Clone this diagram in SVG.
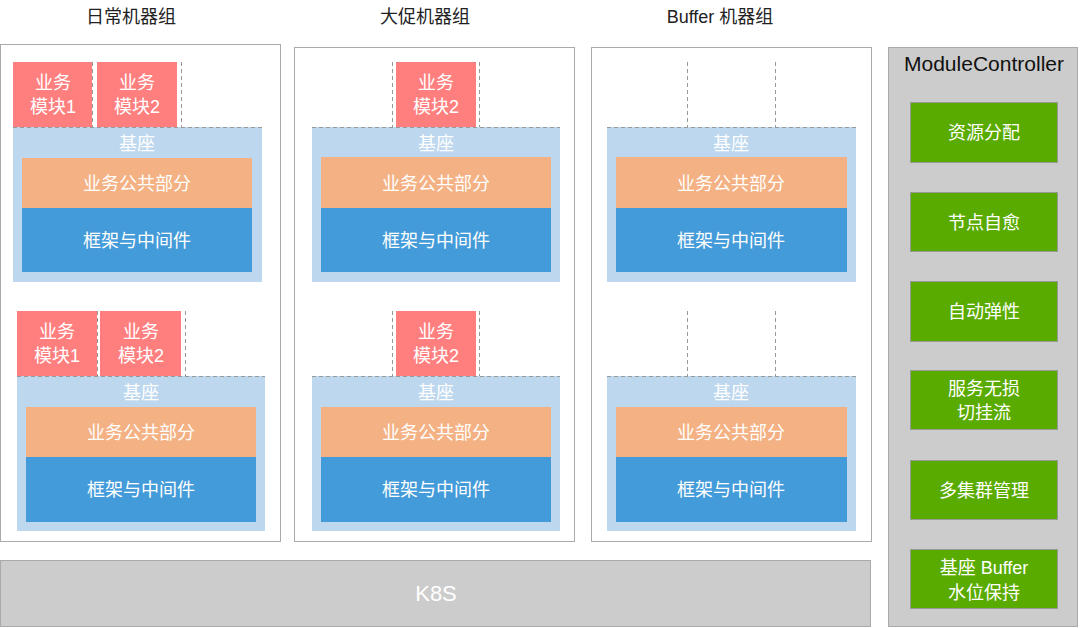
<svg xmlns="http://www.w3.org/2000/svg" width="1080" height="628" viewBox="0 0 1080 628">
<style>
text{font-family:"Liberation Sans","Noto Sans CJK SC",sans-serif;text-anchor:middle}
.title{font-size:18px;fill:#222}
.w{fill:#fff;font-size:18px}
.outer{fill:#fff;stroke:#aaa;stroke-width:1}
.mod{fill:#ff7f7f}
.base{fill:#bdd7ee}
.com{fill:#f4b183}
.fw{fill:#449bd9}
.dash{stroke:#999;stroke-width:1;stroke-dasharray:4 3;fill:none}
.mc{fill:#cccccc;stroke:#aaa;stroke-width:1}
.g{fill:#5aab00;stroke:#999;stroke-width:1}
</style>
<g id="titles">
<text class="title" x="131" y="23">日常机器组</text>
<text class="title" x="425" y="23">大促机器组</text>
<text class="title" x="720" y="23">Buffer 机器组</text>
</g>
<g id="group-daily">
<rect class="outer" x="0.5" y="44.5" width="280" height="497"/>
<rect class="mod" x="13" y="62" width="79" height="65"/>
<text class="w" x="53" y="89">业务</text><text class="w" x="53" y="113">模块1</text>
<rect class="mod" x="97" y="62" width="80" height="65"/>
<text class="w" x="137" y="89">业务</text><text class="w" x="137" y="113">模块2</text>
<line class="dash" x1="92.5" y1="62" x2="92.5" y2="127"/>
<line class="dash" x1="181.5" y1="62" x2="181.5" y2="127"/>
<rect class="base" x="13" y="127" width="249" height="155"/>
<line class="dash" x1="13" y1="127.5" x2="262" y2="127.5"/>
<text class="w" x="137" y="150">基座</text>
<rect class="com" x="22" y="158" width="230" height="50"/>
<text class="w" x="137" y="190">业务公共部分</text>
<rect class="fw" x="22" y="208" width="230" height="64"/>
<text class="w" x="137" y="247">框架与中间件</text>

<rect class="mod" x="17" y="311" width="80" height="65"/>
<text class="w" x="57" y="338">业务</text><text class="w" x="57" y="362">模块1</text>
<rect class="mod" x="100" y="311" width="81" height="65"/>
<text class="w" x="141" y="338">业务</text><text class="w" x="141" y="362">模块2</text>
<line class="dash" x1="97.5" y1="311" x2="97.5" y2="376"/>
<line class="dash" x1="185.5" y1="311" x2="185.5" y2="376"/>
<rect class="base" x="17" y="376" width="248" height="155"/>
<line class="dash" x1="17" y1="376.5" x2="265" y2="376.5"/>
<text class="w" x="141" y="399">基座</text>
<rect class="com" x="26" y="407" width="230" height="50"/>
<text class="w" x="141" y="439">业务公共部分</text>
<rect class="fw" x="26" y="457" width="230" height="65"/>
<text class="w" x="141" y="496">框架与中间件</text>
</g>
<g id="group-promo">
<rect class="outer" x="294.5" y="47.5" width="280" height="494"/>
<rect class="mod" x="396" y="62" width="80" height="65"/>
<text class="w" x="436" y="89">业务</text><text class="w" x="436" y="113">模块2</text>
<line class="dash" x1="392.5" y1="62" x2="392.5" y2="127"/>
<line class="dash" x1="479.5" y1="62" x2="479.5" y2="127"/>
<rect class="base" x="312" y="127" width="248" height="155"/>
<line class="dash" x1="312" y1="127.5" x2="560" y2="127.5"/>
<text class="w" x="436" y="150">基座</text>
<rect class="com" x="321" y="157" width="230" height="51"/>
<text class="w" x="436" y="190">业务公共部分</text>
<rect class="fw" x="321" y="208" width="230" height="64"/>
<text class="w" x="436" y="247">框架与中间件</text>

<rect class="mod" x="396" y="311" width="80" height="65"/>
<text class="w" x="436" y="338">业务</text><text class="w" x="436" y="362">模块2</text>
<line class="dash" x1="392.5" y1="311" x2="392.5" y2="376"/>
<line class="dash" x1="479.5" y1="311" x2="479.5" y2="376"/>
<rect class="base" x="312" y="376" width="248" height="155"/>
<line class="dash" x1="312" y1="376.5" x2="560" y2="376.5"/>
<text class="w" x="436" y="399">基座</text>
<rect class="com" x="321" y="407" width="230" height="50"/>
<text class="w" x="436" y="439">业务公共部分</text>
<rect class="fw" x="321" y="457" width="230" height="65"/>
<text class="w" x="436" y="496">框架与中间件</text>
</g>
<g id="group-buffer">
<rect class="outer" x="591.5" y="47.5" width="280" height="494"/>
<line class="dash" x1="687.5" y1="62" x2="687.5" y2="127"/>
<line class="dash" x1="775.5" y1="62" x2="775.5" y2="127"/>
<rect class="base" x="607" y="127" width="249" height="155"/>
<line class="dash" x1="607" y1="127.5" x2="856" y2="127.5"/>
<text class="w" x="731" y="150">基座</text>
<rect class="com" x="616" y="157" width="231" height="51"/>
<text class="w" x="731" y="190">业务公共部分</text>
<rect class="fw" x="616" y="208" width="231" height="64"/>
<text class="w" x="731" y="247">框架与中间件</text>

<line class="dash" x1="687.5" y1="311" x2="687.5" y2="376"/>
<line class="dash" x1="775.5" y1="311" x2="775.5" y2="376"/>
<rect class="base" x="607" y="376" width="249" height="155"/>
<line class="dash" x1="607" y1="376.5" x2="856" y2="376.5"/>
<text class="w" x="731" y="399">基座</text>
<rect class="com" x="616" y="407" width="231" height="50"/>
<text class="w" x="731" y="439">业务公共部分</text>
<rect class="fw" x="616" y="457" width="231" height="65"/>
<text class="w" x="731" y="496">框架与中间件</text>
</g>
<g id="k8s">
<rect class="mc" x="0.5" y="560.5" width="870" height="66"/>
<text x="436" y="601" style="fill:#fff;font-size:22px">K8S</text>
</g>
<g id="module-controller">
<rect class="mc" x="888.5" y="47.5" width="189" height="579"/>
<text x="984" y="71" textLength="160" lengthAdjust="spacingAndGlyphs" style="fill:#111;font-size:20px">ModuleController</text>
<rect class="g" x="910.5" y="102.5" width="147" height="60"/>
<text class="w" x="984" y="139">资源分配</text>
<rect class="g" x="910.5" y="192.5" width="147" height="59"/>
<text class="w" x="984" y="229">节点自愈</text>
<rect class="g" x="910.5" y="281.5" width="147" height="60"/>
<text class="w" x="984" y="318">自动弹性</text>
<rect class="g" x="910.5" y="370.5" width="147" height="59"/>
<text class="w" x="984" y="395">服务无损</text>
<text class="w" x="984" y="419">切挂流</text>
<rect class="g" x="910.5" y="460.5" width="147" height="59"/>
<text class="w" x="984" y="497">多集群管理</text>
<rect class="g" x="910.5" y="549.5" width="147" height="59"/>
<text class="w" x="984" y="574">基座 Buffer</text>
<text class="w" x="984" y="599">水位保持</text>
</g>
</svg>
